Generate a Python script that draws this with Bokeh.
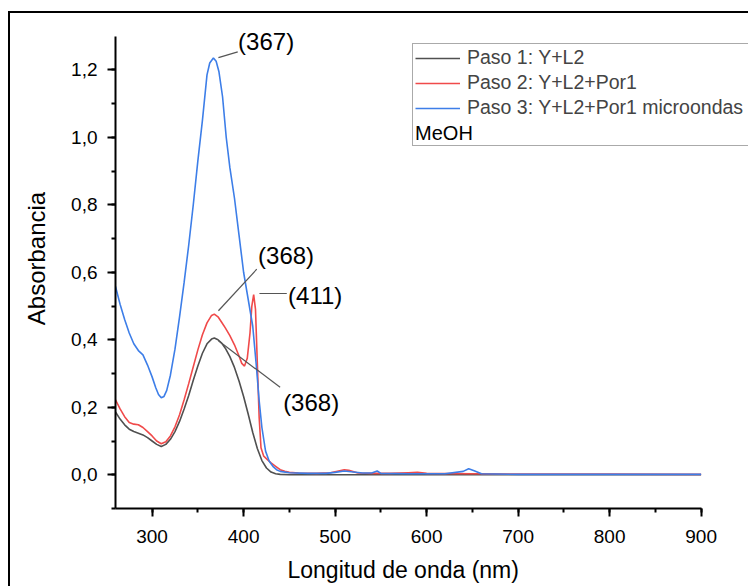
from bokeh.plotting import figure
from bokeh.models import (SingleIntervalTicker, CustomJSTickFormatter, Legend, LegendItem,
                          Label, Range1d, Title)
from bokeh.embed import file_html
from bokeh.resources import INLINE

# ---------------- data ----------------
wl_paso1 = [260, 265, 270, 275, 280, 285, 290, 295, 300, 305, 310, 315, 320, 325, 330, 335,
            340, 345, 350, 355, 360, 365, 368, 372, 376, 380, 385, 390, 395, 400, 405, 410,
            415, 420, 425, 430, 435, 440, 450, 500, 600, 700, 800, 900]
abs_paso1 = [0.186, 0.165, 0.148, 0.135, 0.128, 0.123, 0.118, 0.110, 0.100, 0.090, 0.084,
             0.090, 0.105, 0.128, 0.158, 0.195, 0.235, 0.280, 0.322, 0.360, 0.388, 0.402,
             0.405, 0.400, 0.390, 0.375, 0.350, 0.318, 0.278, 0.232, 0.180, 0.125, 0.078,
             0.042, 0.020, 0.008, 0.003, 0.001, 0.0, 0.0, 0.0, 0.0, 0.0, 0.0]

wl_paso2 = [260, 265, 270, 275, 280, 285, 290, 295, 300, 305, 310, 315, 320, 325, 330, 335,
            340, 345, 350, 355, 360, 365, 368, 372, 376, 380, 385, 390, 395, 398, 401, 404,
            407, 409, 411, 413, 415, 417, 419, 422, 426, 430, 435, 440, 445, 450, 460, 480,
            495, 505, 510, 515, 525, 540, 560, 580, 590, 600, 650, 700, 800, 900]
abs_paso2 = [0.222, 0.195, 0.172, 0.155, 0.150, 0.148, 0.140, 0.128, 0.115, 0.100, 0.092,
             0.098, 0.115, 0.142, 0.178, 0.222, 0.270, 0.320, 0.370, 0.415, 0.450, 0.472,
             0.476, 0.468, 0.452, 0.435, 0.412, 0.385, 0.352, 0.330, 0.322, 0.345, 0.420,
             0.500, 0.534, 0.490, 0.330, 0.170, 0.080, 0.055, 0.045, 0.035, 0.025, 0.015,
             0.010, 0.007, 0.005, 0.004, 0.006, 0.012, 0.015, 0.013, 0.005, 0.004, 0.004,
             0.006, 0.007, 0.004, 0.003, 0.002, 0.002, 0.001]

wl_paso3 = [260, 265, 270, 275, 280, 285, 290, 295, 300, 304, 307, 310, 313, 316, 320, 325,
            330, 335, 340, 345, 350, 355, 360, 363, 367, 370, 373, 377, 381, 385, 390, 395,
            400, 405, 410, 414, 417, 420, 424, 428, 432, 436, 440, 450, 470, 490, 500, 510,
            520, 530, 540, 546, 550, 580, 620, 640, 646, 652, 660, 700, 800, 900]
abs_paso3 = [0.558, 0.505, 0.460, 0.420, 0.388, 0.368, 0.355, 0.325, 0.290, 0.258, 0.238,
             0.228, 0.232, 0.250, 0.295, 0.372, 0.468, 0.570, 0.680, 0.800, 0.930, 1.050,
             1.185, 1.220, 1.235, 1.225, 1.195, 1.120, 1.000, 0.910, 0.820, 0.710, 0.600,
             0.520, 0.440, 0.320, 0.220, 0.140, 0.070, 0.040, 0.025, 0.015, 0.010, 0.006,
             0.004, 0.004, 0.007, 0.011, 0.008, 0.005, 0.005, 0.011, 0.004, 0.003, 0.003,
             0.010, 0.018, 0.012, 0.003, 0.001, 0.001, 0.001]

series_labels = ["Paso 1: Y+L2", "Paso 2: Y+L2+Por1", "Paso 3: Y+L2+Por1 microondas"]
legend_note = "MeOH"
peak_labels = ["(367)", "(368)", "(411)", "(368)"]

# ---------------- figure ----------------
p = figure(output_backend="svg", toolbar_location=None,
           frame_width=633, frame_height=500,
           min_border_left=115, min_border_top=8, min_border_right=0, min_border_bottom=70,
           x_range=Range1d(260, 951.8), y_range=Range1d(-0.1, 1.3815),
           background_fill_alpha=0.0, border_fill_alpha=0.0)
p.styles = {"box-shadow": "inset 8px 0 0 0 white, inset 0 11px 0 0 white, "
                          "inset 10px 0 0 0 black, inset 0 13px 0 0 black"}
p.outline_line_color = None
p.xgrid.visible = False
p.ygrid.visible = False

FONT = "Liberation Sans"

colors = ["#505050", "#f04a4a", "#3d7ee8"]
r1 = p.line(wl_paso1, abs_paso1, line_color=colors[0], line_width=1.6)
r2 = p.line(wl_paso2, abs_paso2, line_color=colors[1], line_width=1.6)
r3 = p.line(wl_paso3, abs_paso3, line_color=colors[2], line_width=1.6)
r4 = p.line([260], [0], line_alpha=0)

for ax in (p.xaxis[0], p.yaxis[0]):
    ax.axis_line_width = 2
    ax.axis_line_color = "black"
    ax.major_tick_line_width = 2
    ax.minor_tick_line_width = 2
    ax.major_tick_line_color = "black"
    ax.minor_tick_line_color = "black"
    ax.major_tick_out = 8
    ax.major_tick_in = 0
    ax.minor_tick_out = 4
    ax.minor_tick_in = 0
    ax.major_label_text_font = FONT
    ax.major_label_text_font_size = "19px"
    ax.major_label_text_color = "black"
    ax.axis_label_text_font = FONT
    ax.axis_label_text_font_style = "normal"
    ax.axis_label_text_font_size = "24px"
    ax.axis_label_text_color = "black"

p.xaxis.ticker = SingleIntervalTicker(interval=100, num_minor_ticks=2)
p.yaxis.ticker = SingleIntervalTicker(interval=0.2, num_minor_ticks=2)
p.xaxis.bounds = (260, 900)
p.yaxis.bounds = (-0.1, 1.3)
p.yaxis.formatter = CustomJSTickFormatter(code="return tick.toFixed(1).replace('.', ',')")
p.xaxis.major_label_standoff = 13
p.yaxis.major_label_standoff = 10
p.yaxis.axis_label = "Absorbancia"
p.yaxis.axis_label_standoff = 18

xlabel = Title(text="Longitud de onda (nm)", align="left", offset=172,
               text_font=FONT, text_font_size="23px", text_font_style="normal",
               text_color="black", standoff=18)
p.add_layout(xlabel, "below")

# ---------------- legend ----------------
legend = Legend(items=[LegendItem(label=series_labels[0], renderers=[r1]),
                       LegendItem(label=series_labels[1], renderers=[r2]),
                       LegendItem(label=series_labels[2], renderers=[r3]),
                       LegendItem(label=" ", renderers=[r4])],
                location=(297, 500 - 34 - 104),
                label_text_font=FONT, label_text_font_size="19.5px",
                label_height=22, label_width=330, glyph_height=22, glyph_width=45,
                spacing=2, padding=2, margin=0, label_standoff=7,
                border_line_color="#555555", border_line_width=1.5,
                background_fill_alpha=0.0)
p.add_layout(legend, "center")

p.add_layout(Label(x=587.4, y=1.012, text=legend_note, text_align="left",
                   text_baseline="middle", text_font=FONT, text_font_size="20px",
                   text_color="black"))

# ---------------- peak annotations ----------------
lead_x = [[372.5, 393.6], [372.5, 414.4], [417.3, 447.2], [372.5, 439.9]]
lead_y = [[1.236, 1.253], [0.486, 0.609], [0.537, 0.537], [0.397, 0.259]]
p.multi_line(lead_x, lead_y, line_color="#555555", line_width=1.2)
lab_x = [394.0, 415.8, 448.6, 443.2]
lab_y = [1.283, 0.650, 0.530, 0.213]
for t, x, y in zip(peak_labels, lab_x, lab_y):
    p.add_layout(Label(x=x, y=y, text=t, text_align="left", text_baseline="middle",
                       text_font=FONT, text_font_size="24px", text_color="black"))

open("out.html", "w").write(file_html(p, INLINE))
